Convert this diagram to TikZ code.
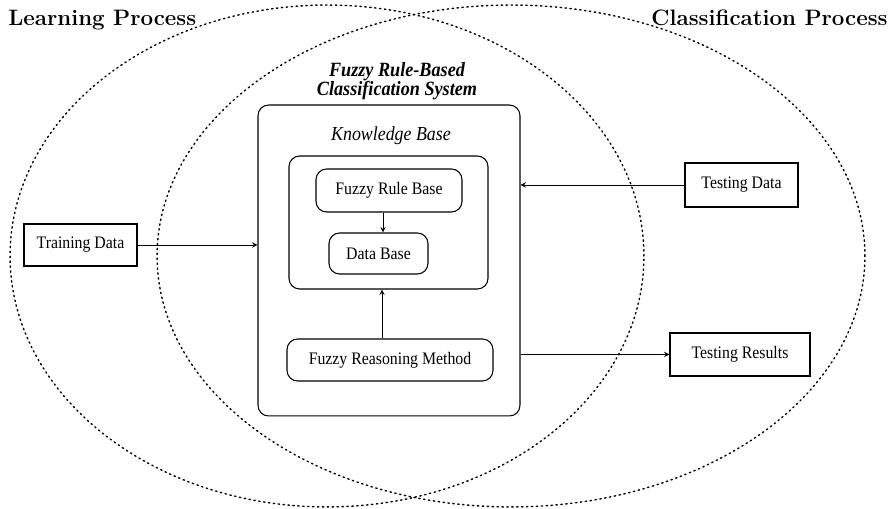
\documentclass[tikz,border=0pt]{standalone}
\usepackage{fontspec}
\setmainfont{Liberation Serif}[FakeStretch=0.9]
\newfontfamily\procfont{Latin Modern Roman}
\usetikzlibrary{positioning}

\begin{document}
\begin{tikzpicture}[x=0.02cm, y=-0.02cm, >=stealth,
        box/.style={draw, semithick, inner sep=0pt, font=\fontsize{10}{12}\selectfont},
        roundbox/.style={box, rounded corners=6pt},
        process/.style={inner sep=0pt, font=\procfont\fontsize{12.7}{14}\selectfont\bfseries},
        region/.style={dotted, line width=0.8pt, line cap=round}]
                \useasboundingbox (0,0) rectangle (894,509);
                % the two processes
                \draw[region] (327,256) ellipse [x radius=6.34cm, y radius=5.02cm];
                \draw[region] (511,256) ellipse [x radius=7.08cm, y radius=5.02cm];
                \node[process, anchor=base west] (learning) at (8,26) {Learning Process};
                \node[process, anchor=base east] (classification) at (888,26) {Classification Process};
                % the system
                \node[roundbox, minimum width=5.24cm, minimum height=6.22cm] (frbcs) at (389,260.5) {};
                \node[font=\fontsize{11.5}{11.3}\selectfont\bfseries\itshape, align=center, anchor=base] (frbcsName) at (397,96) {Fuzzy Rule-Based\\Classification System};
                \node[font=\fontsize{11.3}{12}\selectfont\itshape, anchor=base] (kbName) at (391,141) {Knowledge Base};
                \node[roundbox, minimum width=3.98cm, minimum height=2.66cm] (kb) at (388.5,222.5) {};
                \node[roundbox, minimum width=2.92cm, minimum height=0.86cm] (frb) at (389,190.5) {Fuzzy Rule Base};
                \node[roundbox, minimum width=1.98cm, minimum height=0.82cm] (db) at (378.5,253.5) {Data Base};
                \node[roundbox, minimum width=4.12cm, minimum height=0.84cm] (frm) at (390,360) {Fuzzy Reasoning Method};
                % data
                \node[box, minimum width=2.26cm, minimum height=0.84cm] (training) at (80.5,245) {Training Data};
                \node[box, minimum width=2.26cm, minimum height=0.88cm] (testing) at (741.5,185) {Testing Data};
                \node[box, minimum width=2.8cm, minimum height=0.86cm] (results) at (740,354.5) {Testing Results};
                \draw[->] (frb.south -| 383,0) -- (db.north -| 383,0);
                \draw[->] (frm.north -| 382,0) -- (kb.south -| 382,0);
                \draw[->] (training) -- (frbcs.west |- training);
                \draw[->] (testing) -- (frbcs.east |- testing);
                \draw[->] (frbcs.east |- results) -- (results);
            \end{tikzpicture}
\end{document}
